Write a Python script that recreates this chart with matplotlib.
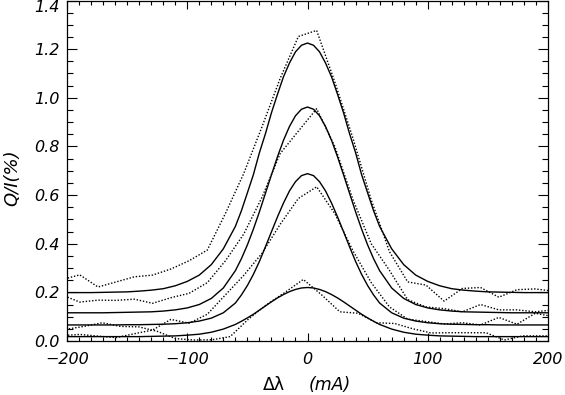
import matplotlib
matplotlib.use("Agg")
import matplotlib.pyplot as plt
from matplotlib.ticker import MultipleLocator

# model profiles (solid); finer sampling around line centre
fit_x = [-200, -190, -180, -170, -160, -150, -140, -130, -120, -110, -100, -90, -80, -70,
         -60, -55, -50, -45, -40, -35, -30, -25, -20, -15, -10, -5, 0,
         5, 10, 15, 20, 25, 30, 35, 40, 45, 50, 55, 60,
         70, 80, 90, 100, 110, 120, 130, 140, 150, 160, 170, 180, 190, 200]
fit_a = [0.199, 0.199, 0.199, 0.200, 0.201, 0.202, 0.205, 0.209, 0.215, 0.227, 0.245, 0.271, 0.314, 0.379,
         0.471, 0.535, 0.609, 0.684, 0.774, 0.852, 0.938, 1.014, 1.086, 1.143, 1.189, 1.216, 1.225,
         1.216, 1.189, 1.143, 1.086, 1.014, 0.938, 0.852, 0.774, 0.684, 0.609, 0.535, 0.471,
         0.379, 0.314, 0.271, 0.245, 0.227, 0.215, 0.209, 0.205, 0.202, 0.201, 0.200, 0.199, 0.199, 0.199]
fit_b = [0.116, 0.116, 0.116, 0.116, 0.117, 0.118, 0.119, 0.120, 0.123, 0.128, 0.136, 0.150, 0.175, 0.218,
         0.289, 0.338, 0.395, 0.460, 0.531, 0.607, 0.683, 0.757, 0.825, 0.882, 0.926, 0.953, 0.962,
         0.953, 0.926, 0.882, 0.825, 0.757, 0.683, 0.607, 0.531, 0.460, 0.395, 0.338, 0.289,
         0.218, 0.175, 0.150, 0.136, 0.128, 0.123, 0.120, 0.119, 0.118, 0.117, 0.116, 0.116, 0.116, 0.116]
fit_c = [0.066, 0.066, 0.066, 0.066, 0.066, 0.067, 0.067, 0.068, 0.069, 0.071, 0.075, 0.082, 0.094, 0.116,
         0.156, 0.189, 0.228, 0.274, 0.327, 0.387, 0.449, 0.510, 0.567, 0.617, 0.655, 0.680, 0.688,
         0.680, 0.655, 0.617, 0.567, 0.510, 0.449, 0.387, 0.327, 0.274, 0.228, 0.189, 0.156,
         0.116, 0.094, 0.082, 0.075, 0.071, 0.069, 0.068, 0.067, 0.067, 0.066, 0.066, 0.066, 0.066, 0.066]
fit_d = [0.018, 0.018, 0.018, 0.018, 0.018, 0.018, 0.018, 0.019, 0.020, 0.021, 0.024, 0.028, 0.036, 0.049,
         0.068, 0.081, 0.095, 0.110, 0.127, 0.144, 0.161, 0.177, 0.191, 0.203, 0.212, 0.218, 0.220,
         0.218, 0.212, 0.203, 0.191, 0.177, 0.161, 0.144, 0.127, 0.110, 0.095, 0.081, 0.068,
         0.049, 0.036, 0.028, 0.024, 0.021, 0.020, 0.019, 0.018, 0.018, 0.018, 0.018, 0.018, 0.018, 0.018]

# observed profiles (dotted)
obs_x = [-204.5, -189.4, -174.2, -159.1, -143.9, -128.8, -113.6, -98.5, -83.3, -68.2,
         -53.0, -37.9, -22.7, -7.6, 7.6, 22.7, 37.9, 53.0, 68.2, 83.3,
         98.5, 113.6, 128.8, 143.9, 159.1, 174.2, 189.4, 204.5]
obs_a = [0.252, 0.272, 0.222, 0.243, 0.264, 0.271, 0.296, 0.330, 0.374, 0.525,
         0.689, 0.880, 1.080, 1.252, 1.277, 1.065, 0.832, 0.580, 0.367, 0.243,
         0.230, 0.164, 0.216, 0.220, 0.180, 0.211, 0.214, 0.205]
obs_b = [0.190, 0.160, 0.168, 0.167, 0.172, 0.155, 0.178, 0.196, 0.240, 0.330,
         0.440, 0.590, 0.771, 0.863, 0.955, 0.800, 0.580, 0.400, 0.290, 0.170,
         0.140, 0.133, 0.120, 0.150, 0.128, 0.128, 0.120, 0.128]
obs_c = [0.022, 0.027, 0.020, 0.014, 0.030, 0.045, 0.089, 0.073, 0.110, 0.190,
         0.270, 0.360, 0.480, 0.586, 0.634, 0.524, 0.370, 0.240, 0.140, 0.090,
         0.080, 0.070, 0.075, 0.066, 0.097, 0.069, 0.114, 0.100]
obs_xd = [-201.1, -185.9, -170.7, -155.5, -140.3, -125.1, -109.9, -94.7, -79.5, -64.3,
          -49.1, -33.9, -18.7, -3.5, 11.7, 26.9, 42.1, 57.3, 72.5, 87.7,
          102.9, 118.1, 133.3, 148.5, 163.7, 178.9, 194.1, 209.3]
obs_d = [0.048, 0.060, 0.075, 0.060, 0.058, 0.040, 0.010, 0.004, 0.005, 0.018,
         0.090, 0.150, 0.200, 0.253, 0.190, 0.120, 0.114, 0.075, 0.072, 0.050,
         0.033, 0.034, 0.034, 0.034, 0.004, 0.021, 0.021, 0.020]

fig = plt.figure(figsize=(5.65, 3.95), dpi=100)
ax = fig.add_axes([67 / 565, 1 - 341 / 395, 481 / 565, 340.5 / 395])

dots = (0, (1.0, 1.3))
for y in (fit_a, fit_b, fit_c, fit_d):
    ax.plot(fit_x, y, color="black", lw=1.0)
for y in (obs_a, obs_b, obs_c):
    ax.plot(obs_x, y, color="black", lw=1.0, linestyle=dots)
ax.plot(obs_xd, obs_d, color="black", lw=1.0, linestyle=dots)

ax.set_xlim(-200, 200)
ax.set_ylim(0, 1.4)
ax.xaxis.set_major_locator(MultipleLocator(100))
ax.xaxis.set_minor_locator(MultipleLocator(10))
ax.yaxis.set_major_locator(MultipleLocator(0.2))
ax.yaxis.set_minor_locator(MultipleLocator(0.05))
ax.tick_params(which="both", direction="in", top=True, right=True,
               width=0.8, color="black")
ax.tick_params(axis="x", which="major", length=5.5, pad=8)
ax.tick_params(axis="x", which="minor", length=3)
ax.tick_params(axis="y", which="major", length=7, pad=5)
ax.tick_params(axis="y", which="minor", length=4)
for s in ax.spines.values():
    s.set_linewidth(0.9)

ax.set_yticks([0.0, 0.2, 0.4, 0.6, 0.8, 1.0, 1.2, 1.4])
ax.set_yticklabels(["0.0", "0.2", "0.4", "0.6", "0.8", "1.0", "1.2", "1.4"])
for lab in ax.get_xticklabels() + ax.get_yticklabels():
    lab.set_fontstyle("italic")
    lab.set_fontsize(11.5)
ax.get_yticklabels()[-1].set_va("top")

fig.text(0.484, 0.026, "Δλ", fontsize=12.5, ha="center", va="center")
fig.text(0.583, 0.026, "(mA)", fontsize=12.5, ha="center", va="center",
         style="italic")
fig.text(0.022, 0.55, "Q/I(%)", fontsize=13, ha="center", va="center",
         rotation=90, style="italic")

fig.savefig("out.png", dpi=100)
